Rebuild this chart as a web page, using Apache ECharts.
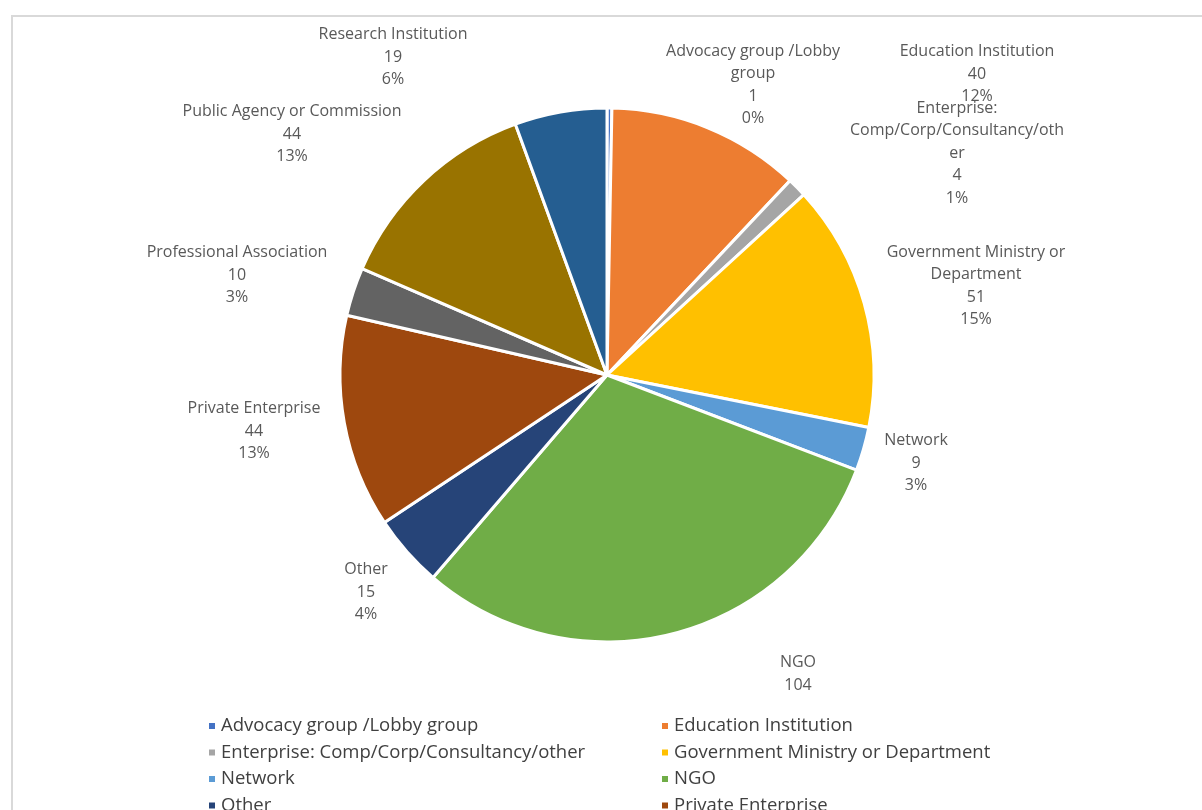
<!DOCTYPE html>
<html>
<head>
<meta charset="utf-8">
<script src="https://cdn.jsdelivr.net/npm/echarts@6/dist/echarts.min.js"></script>
<style>html,body{margin:0;padding:0;background:#fff;}#c{width:1202px;height:810px;}</style>
</head>
<body>
<div id="c"></div>
<script>
const categories = [
  'Advocacy group /Lobby group',
  'Education Institution',
  'Enterprise: Comp/Corp/Consultancy/other',
  'Government Ministry or Department',
  'Network',
  'NGO',
  'Other',
  'Private Enterprise',
  'Professional Association',
  'Public Agency or Commission',
  'Research Institution'
];
const values = [1, 40, 4, 51, 9, 104, 15, 44, 10, 44, 19];
const colors = ['#4472C4','#ED7D31','#A5A5A5','#FFC000','#5B9BD5','#70AD47','#264478','#9E480E','#636363','#997300','#255E91'];
// label display lines (wrapped as in reference)
const labelText = {
  'Advocacy group /Lobby group': 'Advocacy group /Lobby\ngroup',
  'Enterprise: Comp/Corp/Consultancy/other': 'Enterprise:\nComp/Corp/Consultancy/oth\ner',
  'Government Ministry or Department': 'Government Ministry or\nDepartment'
};
// label centre positions (layout only)
const labelPos = [
  [753, 85], [977, 74], [957, 153], [976, 286], [916, 463],
  [798, 674], [366, 592], [254, 431], [237, 275], [292, 134], [393, 57]
];
const total = values.reduce((a, b) => a + b, 0);

const legendText = { fontFamily: 'Open Sans', fontSize: 18.5, color: '#404040', lineHeight: 20 };
const chart = echarts.init(document.getElementById('c'));
chart.setOption({
  animation: false,
  backgroundColor: '#ffffff',
  graphic: [{
    type: 'rect', silent: true, z: -1,
    shape: { x: 12, y: 16, width: 1400, height: 1000 },
    style: { fill: 'none', stroke: '#d9d9d9', lineWidth: 2 }
  }],
  legend: [{
    orient: 'vertical', left: 202, top: 711, height: 400,
    itemWidth: 8, itemHeight: 8, itemGap: 6.5, icon: 'rect',
    textStyle: legendText,
    data: [categories[0], categories[2], categories[4], categories[6], categories[8], categories[10]]
  }, {
    orient: 'vertical', left: 655, top: 711, height: 400,
    itemWidth: 8, itemHeight: 8, itemGap: 6.5, icon: 'rect',
    textStyle: legendText,
    data: [categories[1], categories[3], categories[5], categories[7], categories[9]]
  }],
  series: [{
    type: 'pie',
    center: [607, 375],
    radius: 267,
    startAngle: 90,
    clockwise: true,
    itemStyle: { borderColor: '#ffffff', borderWidth: 3 },
    label: {
      show: true, position: 'outside',
      fontFamily: 'Open Sans', fontSize: 16, color: '#595959', lineHeight: 22.5,
      align: 'center',
      formatter: function (p) {
        const name = labelText[p.name] || p.name;
        const pct = Math.round(p.value / total * 100) + '%';
        if (p.name === 'NGO') return name + '\n' + p.value;
        return name + '\n' + p.value + '\n' + pct;
      }
    },
    labelLine: { show: false },
    labelLayout: function (params) {
      const pos = labelPos[params.dataIndex];
      return { x: pos[0], y: pos[1], align: 'center', verticalAlign: 'middle' };
    },
    emphasis: { disabled: true },
    data: categories.map((c, i) => ({ name: c, value: values[i], itemStyle: { color: colors[i] } }))
  }]
});
</script>
</body>
</html>
